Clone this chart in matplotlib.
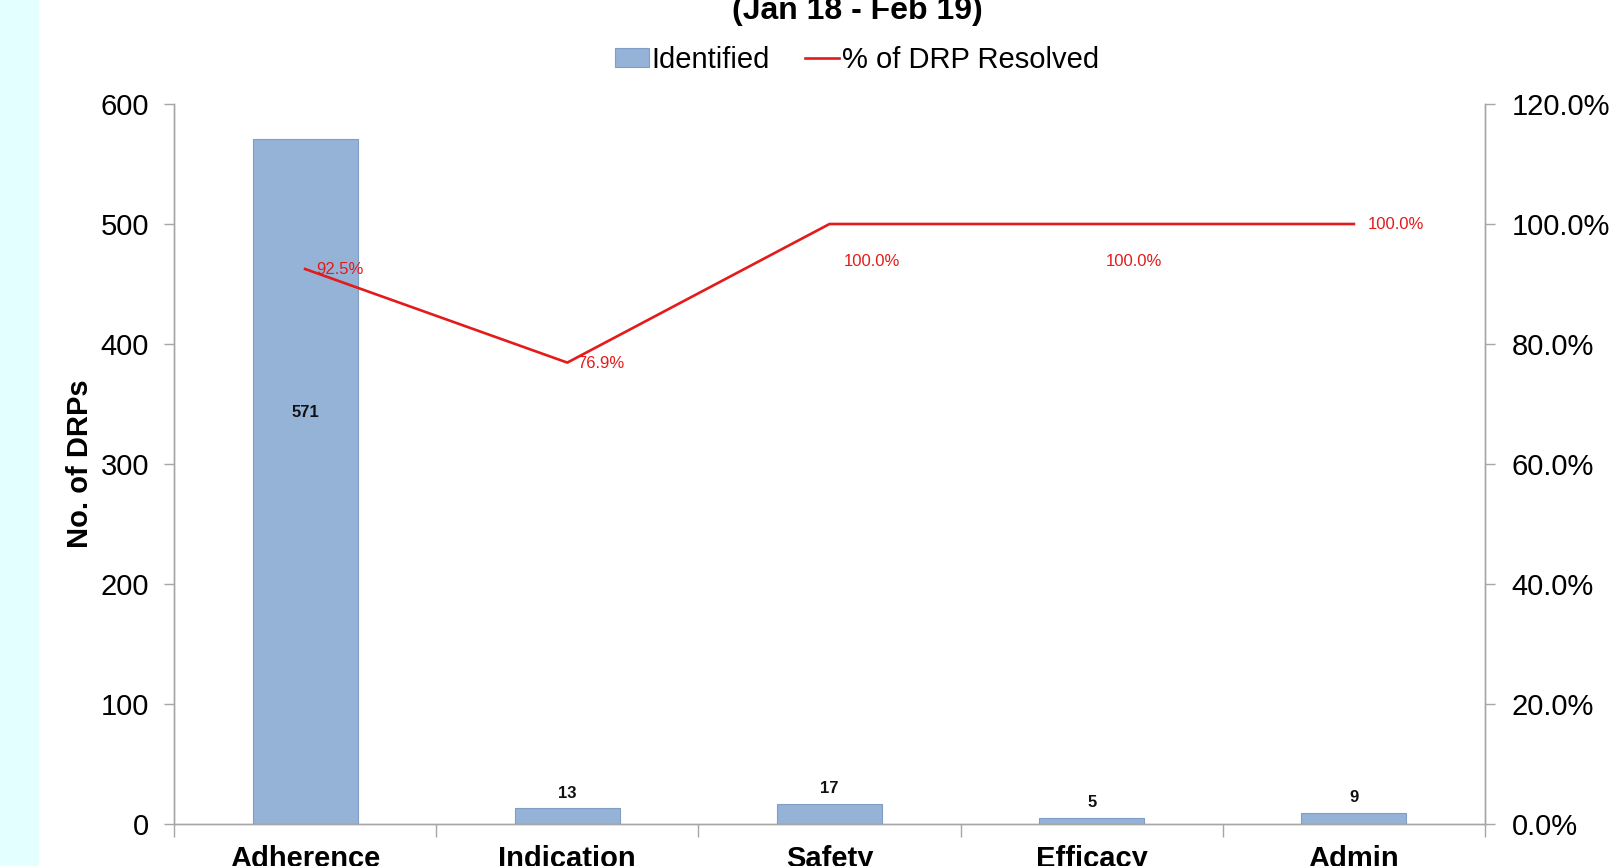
import matplotlib
matplotlib.use("Agg")
import matplotlib.pyplot as plt
from matplotlib.patches import Rectangle
from matplotlib.ticker import FuncFormatter, MultipleLocator

plt.rcParams["font.family"] = ["Liberation Sans", "DejaVu Sans"]

# Data
categories = ["Adherence", "Indication", "Safety", "Efficacy", "Admin"]
identified = [571, 13, 17, 5, 9]
pct_resolved = [92.5, 76.9, 100.0, 100.0, 100.0]

title = "(Jan 18 - Feb 19)"

BAR_COLOR = "#95B3D7"
BAR_EDGE = "#7F9DC6"
LINE_COLOR = "#E31B1B"
SPINE_COLOR = "#A6A6A6"

fig = plt.figure(figsize=(16.09, 8.66), dpi=100)
fig.patch.set_facecolor("white")
fig.add_artist(Rectangle((0, 0), 39 / 1609, 1, transform=fig.transFigure,
                         facecolor="#E3FFFF", edgecolor="none", zorder=0))

ax = fig.add_axes([174 / 1609, 1 - 824 / 866, (1485 - 174) / 1609, (824 - 104) / 866])
ax2 = ax.twinx()

x = list(range(len(categories)))
bars = ax.bar(x, identified, width=0.4, color=BAR_COLOR, edgecolor=BAR_EDGE,
              linewidth=0.8, zorder=2)
line, = ax2.plot(x, [p / 100 for p in pct_resolved], color=LINE_COLOR,
                 linewidth=1.9, zorder=3)

ax.set_xlim(-0.5, len(categories) - 0.5)
ax.set_ylim(0, 600)
ax2.set_ylim(0, 1.2)

# Left axis
ax.yaxis.set_major_locator(MultipleLocator(100))
ax.tick_params(axis="y", which="major", length=7, width=1, color=SPINE_COLOR,
               labelsize=21, pad=11)
ax.set_ylabel("No. of DRPs", fontsize=21, fontweight="bold", labelpad=5)

# Right axis
ax2.yaxis.set_major_locator(MultipleLocator(0.2))
ax2.yaxis.set_major_formatter(FuncFormatter(lambda v, _: f"{v * 100:.1f}%"))
ax2.tick_params(axis="y", which="major", length=7, width=1, color=SPINE_COLOR,
                labelsize=21, pad=12)

# Category axis: labels at centres, tick marks between categories
ax.set_xticks(x)
ax.set_xticklabels(categories, fontsize=21, fontweight="bold")
ax.tick_params(axis="x", which="major", length=0, pad=15)
ax.set_xticks([i + 0.5 for i in range(-1, len(categories))], minor=True)
ax.tick_params(axis="x", which="minor", length=9, width=1, color=SPINE_COLOR)

for a in (ax, ax2):
    a.spines["top"].set_visible(False)
    for s in ("left", "right", "bottom"):
        a.spines[s].set_color(SPINE_COLOR)
        a.spines[s].set_linewidth(1)
ax.set_facecolor("none")
ax2.set_zorder(ax.get_zorder() + 1)

# Bar value labels
for i, v in enumerate(identified):
    if v > 100:
        ax.text(i, v * 0.6, f"{v}", ha="center", va="center",
                fontsize=12, fontweight="bold", color="#111111")
    else:
        ax.annotate(f"{v}", (i, v), xytext=(0, 11), textcoords="offset points",
                    ha="center", va="center", fontsize=12,
                    fontweight="bold", color="#111111")

# Line value labels (offsets in points)
label_offsets = [(8, 0), (7, -1), (10, -27), (10, -27), (10, 0)]
for i, (p, off) in enumerate(zip(pct_resolved, label_offsets)):
    ax2.annotate(f"{p:.1f}%", (i, p / 100), xytext=off, textcoords="offset points",
                 ha="left", va="center", fontsize=12, color=LINE_COLOR)

# Title (partially above the canvas) and legend
fig.text(0.5327, 1 - 19 / 866, title, ha="center", va="baseline",
         fontsize=23, fontweight="bold")
fig.legend([bars, line], ["Identified", "% of DRP Resolved"],
           loc="center", bbox_to_anchor=(0.5327, 1 - 60 / 866), ncol=2,
           frameon=False, fontsize=21, handlelength=1.15, handleheight=0.6,
           handletextpad=0.1, columnspacing=1.2, borderpad=0)

fig.savefig("out.png", dpi=100, facecolor="white")
